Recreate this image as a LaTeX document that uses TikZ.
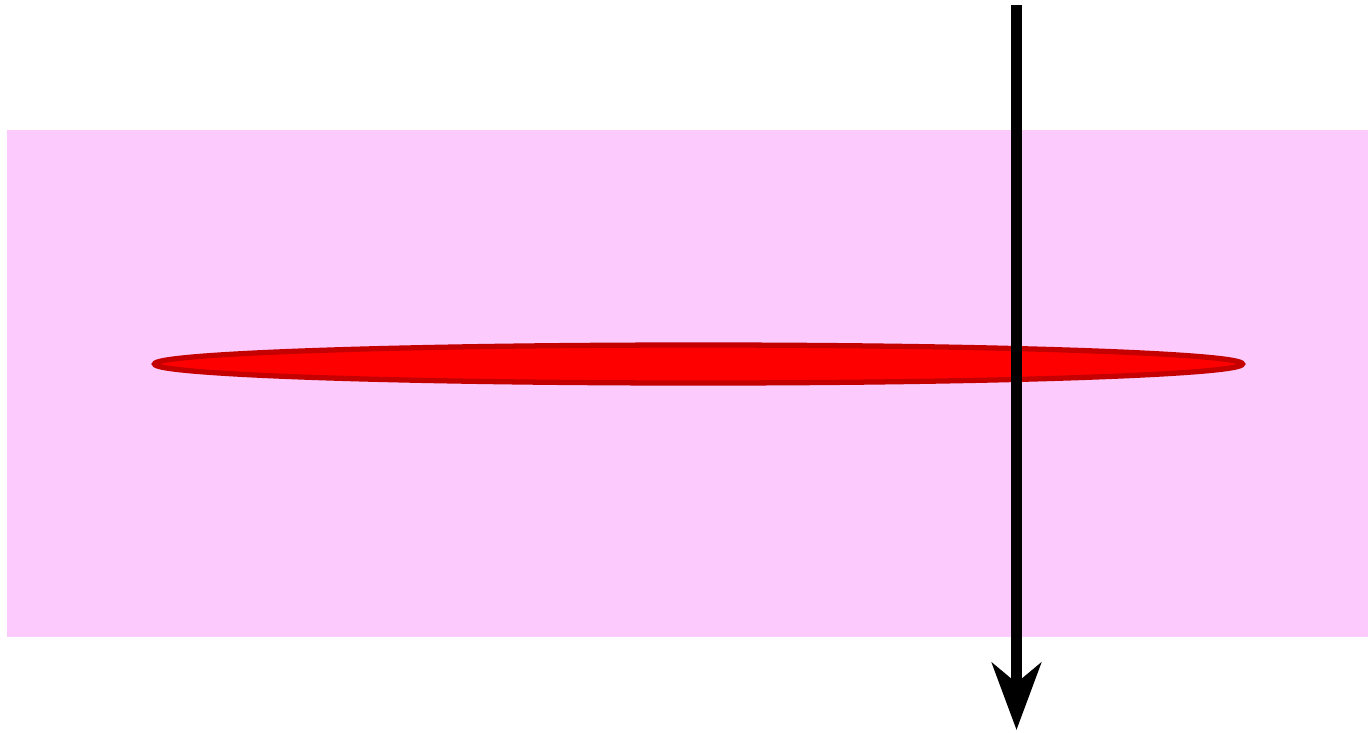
\documentclass[tikz,border=0pt]{standalone}
\usepackage{tikz}
\usetikzlibrary{arrows.meta,positioning,calc,shapes.geometric}
\definecolor{slabpink}{RGB}{252,202,252}
\definecolor{lensred}{RGB}{255,0,0}
\definecolor{lensedge}{RGB}{196,0,0}
\definecolor{pagegray}{RGB}{238,238,238}
\pgfdeclareradialshading{pagefade}{\pgfpoint{0bp}{0bp}}{color(0bp)=(white); color(48bp)=(white); color(72bp)=(pagegray)}

\begin{document}
\begin{tikzpicture}
        \useasboundingbox (0,0) rectangle (13.68,7.32);
        \shade[shading=pagefade] (0,0) rectangle (13.68,7.32);
        \fill[white, rounded corners=4pt] (0.01,0.89) rectangle (13.68,6.08);
        \fill[slabpink] (0.07,0.95) rectangle (13.68,6.02);
        \node[ellipse, fill=lensred, draw=lensedge, line width=1.5pt,
              minimum width=10.88cm, minimum height=0.38cm, inner sep=0pt]
              (lens) at (6.985,3.68) {};
        \coordinate (rayin) at (10.165,7.27);
        \coordinate (rayout) at (10.165,0.02);
        \draw[-{Stealth[length=6.7mm, width=4.9mm, inset=2mm]}, line width=3.1pt]
              (rayin) -- (rayout);
      \end{tikzpicture}
\end{document}
